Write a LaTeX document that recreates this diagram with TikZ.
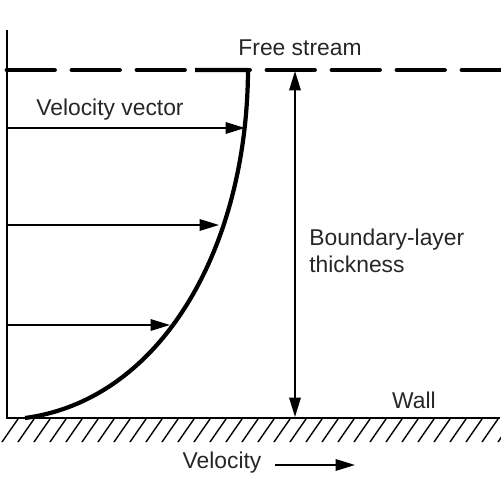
\documentclass[tikz,border=0pt]{standalone}
\usepackage{fontspec}
\setmainfont{Liberation Sans}
\usetikzlibrary{arrows.meta}
\begin{document}
\begin{tikzpicture}[x=0.02cm,y=-0.02cm,
  lbl/.style={font=\fontsize{13}{15.5}\selectfont, text=black!85, inner sep=0pt},
  vec/.style={line width=1pt, -{Triangle[length=11pt,width=6.5pt]}},
  dimarrow/.style={line width=1pt, {Triangle[length=11pt,width=6.5pt]}-{Triangle[length=11pt,width=6.5pt]}},
  axisline/.style={line width=1.7pt},
  profile/.style={line width=2.4pt},
  freestream/.style={line width=2.8pt, line cap=round, dash pattern=on 27pt off 10pt},
  hatch/.style={line width=0.8pt}
]
\useasboundingbox (0,0) rectangle (500,500);
% coordinates
\coordinate (top) at (7,30);
\coordinate (origin) at (7,418);
\coordinate (wallend) at (500,418);
\coordinate (fsstart) at (7,70);
\coordinate (fsend) at (500,70);
% wall and axis
\draw[axisline] (top) -- (origin) -- (wallend);
% hatching
\foreach \x in {2,18,...,498} {
  \draw[hatch] (\x,442) -- (\x+16,419);
}
% free stream dashed line
\draw[freestream] (fsstart) -- (fsend);
% velocity profile
\coordinate (pc) at (248,70);
\coordinate (pend) at (25,418);
\draw[profile, line join=round] (195,70) -- (pc) .. controls (247,250) and (160,400) .. (pend);
% velocity vectors
\coordinate (v1s) at (7,128); \coordinate (v1e) at (245,128);
\coordinate (v2s) at (7,225); \coordinate (v2e) at (219,225);
\coordinate (v3s) at (7,325); \coordinate (v3e) at (170,325);
\draw[vec] (v1s) -- (v1e);
\draw[vec] (v2s) -- (v2e);
\draw[vec] (v3s) -- (v3e);
% boundary layer thickness
\coordinate (bltop) at (295,71);
\coordinate (blbot) at (295,417);
\draw[dimarrow] (bltop) -- (blbot);
% labels
\node[lbl] (fs) at (300,48) {Free stream};
\node[lbl] (vv) at (110,110) {Velocity vector};
\node[lbl, anchor=west, align=left] (bl) at (309,251) {Boundary-layer\\thickness};
\node[lbl] (wall) at (414,400) {Wall};
\node[lbl] (vel) at (222,463) {Velocity};
\coordinate (va) at (275,465);
\coordinate (vb) at (355,465);
\draw[vec] (va) -- (vb);
\end{tikzpicture}
\end{document}
